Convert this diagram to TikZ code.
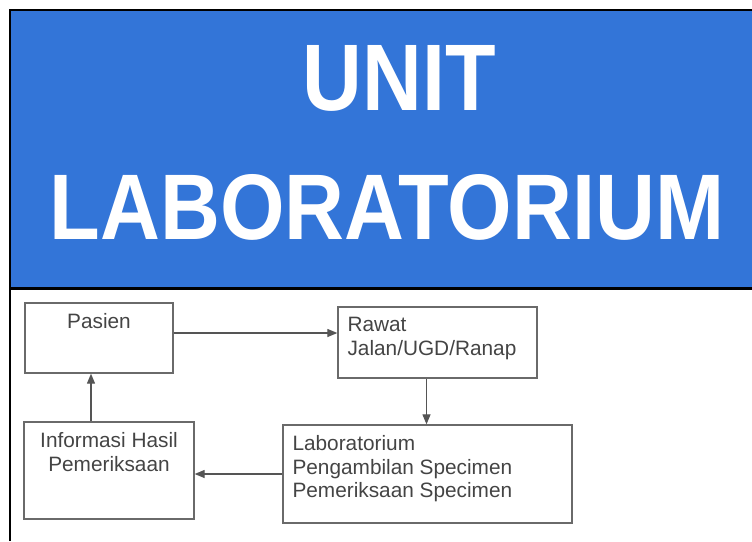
\documentclass[tikz,border=0pt]{standalone}
\usepackage{fontspec}
\setmainfont{Liberation Sans}
\usepackage{tikz}
\usetikzlibrary{arrows.meta,calc}

\definecolor{bandblue}{HTML}{3375D8}
\definecolor{boxgray}{HTML}{6A6A6A}
\definecolor{txtgray}{HTML}{444444}

\tikzset{
  box/.style = {draw=boxgray, line width=1.3pt, inner sep=0pt},
  txt/.style = {text=txtgray, font=\fontsize{20.8}{23.5}\selectfont, inner xsep=10pt, inner ysep=11pt},
  arr/.style = {draw=boxgray!80!black, line width=1.2pt, -{Triangle[length=10pt,width=8pt]}},
  title/.style = {text=white, font=\bfseries, inner sep=0pt},
}

\begin{document}
\begin{tikzpicture}[x=1pt,y=-1pt]
    \useasboundingbox (0,0) rectangle (752,541);

    % header band
    \fill[bandblue] (11,11) rectangle (752,287);
    \draw[line width=2pt] (10,541) -- (10,10) -- (752,10);
    \draw[line width=3pt] (10,288.5) -- (752,288.5);

    \node[title] (unit) at (399.5,78.5) {\resizebox{193pt}{65pt}{UNIT}};
    \node[title] (lab) at (387,207) {\resizebox{674pt}{65pt}{LABORATORIUM}};

    % flow boxes
    \node[box,minimum width=148pt,minimum height=70pt,
          label={[txt,anchor=north]north:Pasien}] (pasien) at (99,338) {};
    \node[box,minimum width=199pt,minimum height=71pt,
          label={[txt,anchor=north west,align=left]north west:Rawat\\Jalan/UGD/Ranap}] (rawat) at (437.5,342.5) {};
    \node[box,minimum width=289pt,minimum height=98pt,
          label={[txt,anchor=north west,align=left]north west:Laboratorium\\Pengambilan Specimen\\Pemeriksaan Specimen}] (labor) at (427.5,474) {};
    \node[box,minimum width=170pt,minimum height=97pt,
          label={[txt,anchor=north,align=center]north:Informasi Hasil\\Pemeriksaan}] (info) at (109,470.5) {};

    % connectors
    \draw[arr] ([yshift=5pt]pasien.east) -- ([yshift=5pt]pasien.east -| rawat.west);
    \draw[arr] ([xshift=-11pt]rawat.south) -- ([xshift=-11pt]rawat.south |- labor.north);
    \draw[arr] (labor.west) -- (labor.west -| info.east);
    \draw[arr] ([xshift=-18pt]info.north) -- ([xshift=-18pt]info.north |- pasien.south);
\end{tikzpicture}
\end{document}
